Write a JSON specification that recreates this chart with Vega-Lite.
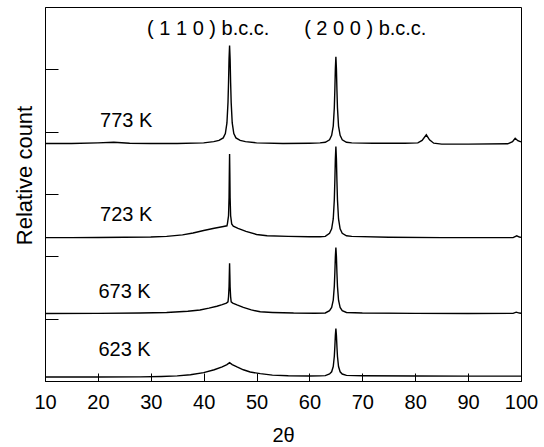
{
  "$schema": "https://vega.github.io/schema/vega-lite/v6.json",
  "width": 476,
  "height": 374,
  "autosize": {"type": "none"},
  "padding": {"left": 45, "top": 7, "right": 23, "bottom": 66},
  "background": "white",
  "config": {
    "view": {"stroke": "black", "strokeWidth": 1},
    "font": "Liberation Sans",
    "axis": {"grid": false, "domainColor": "black", "tickColor": "black", "domainWidth": 1, "tickWidth": 1, "labelColor": "black", "titleColor": "black", "labelFont": "Liberation Sans", "titleFont": "Liberation Sans", "titleFontWeight": "normal"}
  },
  "datasets": {
    "curves": [
      {"sample": "773 K", "x": 10, "y": 3.81}, {"sample": "773 K", "x": 15, "y": 3.81}, {"sample": "773 K", "x": 20, "y": 3.82}, {"sample": "773 K", "x": 23, "y": 3.83}, {"sample": "773 K", "x": 26, "y": 3.815}, {"sample": "773 K", "x": 30, "y": 3.81}, {"sample": "773 K", "x": 35, "y": 3.81}, {"sample": "773 K", "x": 40, "y": 3.82}, {"sample": "773 K", "x": 41.9, "y": 3.84}, {"sample": "773 K", "x": 42.9, "y": 3.86}, {"sample": "773 K", "x": 43.7, "y": 3.9}, {"sample": "773 K", "x": 44.1, "y": 3.97}, {"sample": "773 K", "x": 44.4, "y": 4.14}, {"sample": "773 K", "x": 44.6, "y": 4.47}, {"sample": "773 K", "x": 44.7, "y": 4.78}, {"sample": "773 K", "x": 44.8, "y": 5.17}, {"sample": "773 K", "x": 44.9, "y": 5.38}, {"sample": "773 K", "x": 45.0, "y": 5.17}, {"sample": "773 K", "x": 45.1, "y": 4.78}, {"sample": "773 K", "x": 45.2, "y": 4.47}, {"sample": "773 K", "x": 45.4, "y": 4.14}, {"sample": "773 K", "x": 45.7, "y": 3.97}, {"sample": "773 K", "x": 46.1, "y": 3.9}, {"sample": "773 K", "x": 46.9, "y": 3.86}, {"sample": "773 K", "x": 47.9, "y": 3.84}, {"sample": "773 K", "x": 50, "y": 3.82}, {"sample": "773 K", "x": 55, "y": 3.81}, {"sample": "773 K", "x": 60, "y": 3.815}, {"sample": "773 K", "x": 62, "y": 3.82}, {"sample": "773 K", "x": 63, "y": 3.83}, {"sample": "773 K", "x": 63.8, "y": 3.87}, {"sample": "773 K", "x": 64.2, "y": 3.94}, {"sample": "773 K", "x": 64.5, "y": 4.09}, {"sample": "773 K", "x": 64.7, "y": 4.38}, {"sample": "773 K", "x": 64.8, "y": 4.66}, {"sample": "773 K", "x": 64.9, "y": 5.01}, {"sample": "773 K", "x": 65.0, "y": 5.2}, {"sample": "773 K", "x": 65.1, "y": 5.01}, {"sample": "773 K", "x": 65.2, "y": 4.66}, {"sample": "773 K", "x": 65.3, "y": 4.38}, {"sample": "773 K", "x": 65.5, "y": 4.09}, {"sample": "773 K", "x": 65.8, "y": 3.94}, {"sample": "773 K", "x": 66.2, "y": 3.87}, {"sample": "773 K", "x": 67, "y": 3.83}, {"sample": "773 K", "x": 68, "y": 3.82}, {"sample": "773 K", "x": 72, "y": 3.815}, {"sample": "773 K", "x": 78, "y": 3.815}, {"sample": "773 K", "x": 80.5, "y": 3.82}, {"sample": "773 K", "x": 81.3, "y": 3.86}, {"sample": "773 K", "x": 82.1, "y": 3.95}, {"sample": "773 K", "x": 82.7, "y": 3.87}, {"sample": "773 K", "x": 83.5, "y": 3.815}, {"sample": "773 K", "x": 85, "y": 3.8}, {"sample": "773 K", "x": 90, "y": 3.8}, {"sample": "773 K", "x": 97.5, "y": 3.805}, {"sample": "773 K", "x": 98.4, "y": 3.84}, {"sample": "773 K", "x": 98.9, "y": 3.895}, {"sample": "773 K", "x": 99.4, "y": 3.855}, {"sample": "773 K", "x": 100, "y": 3.835},

      {"sample": "723 K", "x": 10, "y": 2.3}, {"sample": "723 K", "x": 15, "y": 2.3}, {"sample": "723 K", "x": 20, "y": 2.302}, {"sample": "723 K", "x": 25, "y": 2.305}, {"sample": "723 K", "x": 30, "y": 2.31}, {"sample": "723 K", "x": 33, "y": 2.32}, {"sample": "723 K", "x": 36, "y": 2.345}, {"sample": "723 K", "x": 38, "y": 2.375}, {"sample": "723 K", "x": 40, "y": 2.415}, {"sample": "723 K", "x": 42, "y": 2.45}, {"sample": "723 K", "x": 43.5, "y": 2.475}, {"sample": "723 K", "x": 44.4, "y": 2.49}, {"sample": "723 K", "x": 44.5, "y": 2.53}, {"sample": "723 K", "x": 44.7, "y": 2.65}, {"sample": "723 K", "x": 44.8, "y": 2.94}, {"sample": "723 K", "x": 44.85, "y": 3.32}, {"sample": "723 K", "x": 44.9, "y": 3.64}, {"sample": "723 K", "x": 44.95, "y": 3.32}, {"sample": "723 K", "x": 45.0, "y": 2.94}, {"sample": "723 K", "x": 45.1, "y": 2.65}, {"sample": "723 K", "x": 45.3, "y": 2.52}, {"sample": "723 K", "x": 45.6, "y": 2.485}, {"sample": "723 K", "x": 46.5, "y": 2.45}, {"sample": "723 K", "x": 48, "y": 2.4}, {"sample": "723 K", "x": 50, "y": 2.35}, {"sample": "723 K", "x": 52, "y": 2.33}, {"sample": "723 K", "x": 56, "y": 2.32}, {"sample": "723 K", "x": 60, "y": 2.314}, {"sample": "723 K", "x": 62, "y": 2.315}, {"sample": "723 K", "x": 63, "y": 2.32}, {"sample": "723 K", "x": 63.8, "y": 2.37}, {"sample": "723 K", "x": 64.2, "y": 2.44}, {"sample": "723 K", "x": 64.5, "y": 2.6}, {"sample": "723 K", "x": 64.7, "y": 2.905}, {"sample": "723 K", "x": 64.8, "y": 3.2}, {"sample": "723 K", "x": 64.9, "y": 3.56}, {"sample": "723 K", "x": 65.0, "y": 3.76}, {"sample": "723 K", "x": 65.1, "y": 3.56}, {"sample": "723 K", "x": 65.2, "y": 3.2}, {"sample": "723 K", "x": 65.3, "y": 2.905}, {"sample": "723 K", "x": 65.5, "y": 2.6}, {"sample": "723 K", "x": 65.8, "y": 2.44}, {"sample": "723 K", "x": 66.2, "y": 2.37}, {"sample": "723 K", "x": 67, "y": 2.33}, {"sample": "723 K", "x": 68, "y": 2.32}, {"sample": "723 K", "x": 75, "y": 2.305}, {"sample": "723 K", "x": 85, "y": 2.3}, {"sample": "723 K", "x": 95, "y": 2.3}, {"sample": "723 K", "x": 98.5, "y": 2.3}, {"sample": "723 K", "x": 99.2, "y": 2.33}, {"sample": "723 K", "x": 99.7, "y": 2.31}, {"sample": "723 K", "x": 100, "y": 2.305},

      {"sample": "673 K", "x": 10, "y": 1.083}, {"sample": "673 K", "x": 20, "y": 1.085}, {"sample": "673 K", "x": 28, "y": 1.09}, {"sample": "673 K", "x": 33, "y": 1.1}, {"sample": "673 K", "x": 37, "y": 1.12}, {"sample": "673 K", "x": 39.3, "y": 1.14}, {"sample": "673 K", "x": 41, "y": 1.17}, {"sample": "673 K", "x": 42.5, "y": 1.2}, {"sample": "673 K", "x": 43.5, "y": 1.225}, {"sample": "673 K", "x": 44.3, "y": 1.25}, {"sample": "673 K", "x": 44.6, "y": 1.27}, {"sample": "673 K", "x": 44.7, "y": 1.35}, {"sample": "673 K", "x": 44.8, "y": 1.51}, {"sample": "673 K", "x": 44.85, "y": 1.71}, {"sample": "673 K", "x": 44.9, "y": 1.887}, {"sample": "673 K", "x": 44.95, "y": 1.71}, {"sample": "673 K", "x": 45.0, "y": 1.51}, {"sample": "673 K", "x": 45.1, "y": 1.35}, {"sample": "673 K", "x": 45.2, "y": 1.27}, {"sample": "673 K", "x": 45.5, "y": 1.25}, {"sample": "673 K", "x": 46.3, "y": 1.22}, {"sample": "673 K", "x": 47.5, "y": 1.18}, {"sample": "673 K", "x": 49, "y": 1.14}, {"sample": "673 K", "x": 50.7, "y": 1.11}, {"sample": "673 K", "x": 53, "y": 1.1}, {"sample": "673 K", "x": 57, "y": 1.09}, {"sample": "673 K", "x": 61, "y": 1.088}, {"sample": "673 K", "x": 63, "y": 1.092}, {"sample": "673 K", "x": 63.8, "y": 1.129}, {"sample": "673 K", "x": 64.2, "y": 1.179}, {"sample": "673 K", "x": 64.5, "y": 1.296}, {"sample": "673 K", "x": 64.7, "y": 1.518}, {"sample": "673 K", "x": 64.8, "y": 1.729}, {"sample": "673 K", "x": 64.9, "y": 1.994}, {"sample": "673 K", "x": 65.0, "y": 2.14}, {"sample": "673 K", "x": 65.1, "y": 1.994}, {"sample": "673 K", "x": 65.2, "y": 1.729}, {"sample": "673 K", "x": 65.3, "y": 1.518}, {"sample": "673 K", "x": 65.5, "y": 1.296}, {"sample": "673 K", "x": 65.8, "y": 1.179}, {"sample": "673 K", "x": 66.2, "y": 1.129}, {"sample": "673 K", "x": 67, "y": 1.1}, {"sample": "673 K", "x": 70, "y": 1.09}, {"sample": "673 K", "x": 80, "y": 1.085}, {"sample": "673 K", "x": 90, "y": 1.083}, {"sample": "673 K", "x": 98.5, "y": 1.085}, {"sample": "673 K", "x": 99.1, "y": 1.105}, {"sample": "673 K", "x": 99.7, "y": 1.09}, {"sample": "673 K", "x": 100, "y": 1.088},

      {"sample": "623 K", "x": 10, "y": 0.064}, {"sample": "623 K", "x": 20, "y": 0.064}, {"sample": "623 K", "x": 28, "y": 0.066}, {"sample": "623 K", "x": 32, "y": 0.072}, {"sample": "623 K", "x": 35, "y": 0.082}, {"sample": "623 K", "x": 37.5, "y": 0.1}, {"sample": "623 K", "x": 40, "y": 0.135}, {"sample": "623 K", "x": 42, "y": 0.18}, {"sample": "623 K", "x": 43.5, "y": 0.225}, {"sample": "623 K", "x": 44.4, "y": 0.262}, {"sample": "623 K", "x": 44.9, "y": 0.295}, {"sample": "623 K", "x": 45.4, "y": 0.262}, {"sample": "623 K", "x": 46.3, "y": 0.225}, {"sample": "623 K", "x": 47.5, "y": 0.18}, {"sample": "623 K", "x": 48.8, "y": 0.145}, {"sample": "623 K", "x": 50.7, "y": 0.118}, {"sample": "623 K", "x": 53, "y": 0.095}, {"sample": "623 K", "x": 56, "y": 0.085}, {"sample": "623 K", "x": 60, "y": 0.08}, {"sample": "623 K", "x": 62, "y": 0.082}, {"sample": "623 K", "x": 63, "y": 0.086}, {"sample": "623 K", "x": 63.8, "y": 0.112}, {"sample": "623 K", "x": 64.2, "y": 0.148}, {"sample": "623 K", "x": 64.5, "y": 0.232}, {"sample": "623 K", "x": 64.7, "y": 0.392}, {"sample": "623 K", "x": 64.8, "y": 0.544}, {"sample": "623 K", "x": 64.9, "y": 0.735}, {"sample": "623 K", "x": 65.0, "y": 0.84}, {"sample": "623 K", "x": 65.1, "y": 0.735}, {"sample": "623 K", "x": 65.2, "y": 0.544}, {"sample": "623 K", "x": 65.3, "y": 0.392}, {"sample": "623 K", "x": 65.5, "y": 0.232}, {"sample": "623 K", "x": 65.8, "y": 0.148}, {"sample": "623 K", "x": 66.2, "y": 0.112}, {"sample": "623 K", "x": 67, "y": 0.09}, {"sample": "623 K", "x": 70, "y": 0.085}, {"sample": "623 K", "x": 80, "y": 0.08}, {"sample": "623 K", "x": 90, "y": 0.078}, {"sample": "623 K", "x": 100, "y": 0.078}
    ],
    "labels": [
      {"x": 20.4, "y": 4.17, "text": "773 K"},
      {"x": 20.4, "y": 2.66, "text": "723 K"},
      {"x": 20.1, "y": 1.43, "text": "673 K"},
      {"x": 20.1, "y": 0.49, "text": "623 K"},
      {"x": 29.3, "y": 5.65, "text": "( 1 1 0 ) b.c.c."},
      {"x": 59.0, "y": 5.65, "text": "( 2 0 0 ) b.c.c."}
    ]
  },
  "layer": [
    {
      "data": {"name": "curves"},
      "mark": {"type": "line", "color": "black", "strokeWidth": 1.4, "interpolate": "linear"},
      "encoding": {
        "x": {"field": "x", "type": "quantitative", "scale": {"domain": [10, 100], "nice": false, "zero": false},
          "axis": {"values": [10, 20, 30, 40, 50, 60, 70, 80, 90, 100], "title": "2θ", "tickSize": -8, "labelFontSize": 20, "labelPadding": 19, "titleFontSize": 20, "titlePadding": 13, "labelFlush": false}},
        "y": {"field": "y", "type": "quantitative", "scale": {"domain": [0, 6], "nice": false, "zero": false},
          "axis": {"values": [1, 2, 3, 4, 5], "labels": false, "tickSize": -13, "title": "Relative count", "titleFontSize": 22, "titleAngle": 270, "titleAlign": "center", "titleBaseline": "middle", "titleX": -21, "titleY": 168}},
        "detail": {"field": "sample", "type": "nominal"}
      }
    },
    {
      "data": {"name": "labels"},
      "mark": {"type": "text", "align": "left", "baseline": "middle", "fontSize": 20, "font": "Liberation Sans", "color": "black"},
      "encoding": {
        "x": {"field": "x", "type": "quantitative"},
        "y": {"field": "y", "type": "quantitative"},
        "text": {"field": "text"}
      }
    }
  ]
}
